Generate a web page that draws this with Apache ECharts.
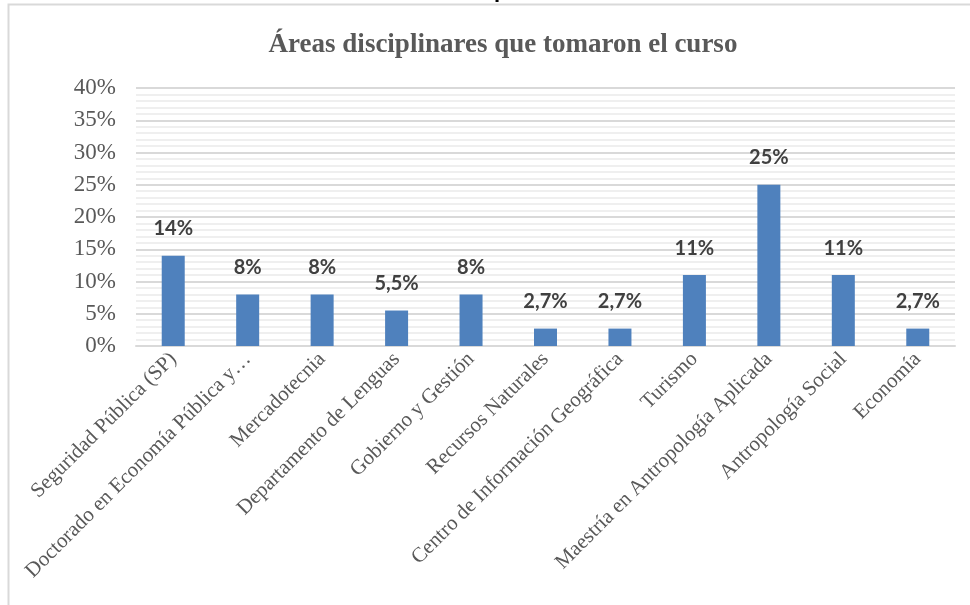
<!DOCTYPE html>
<html>
<head>
<meta charset="utf-8">
<script src="https://cdn.jsdelivr.net/npm/echarts@6/dist/echarts.min.js"></script>
<style>
html,body{margin:0;padding:0;background:#fff;}
#chart{width:970px;height:605px;}
</style>
</head>
<body>
<div id="chart"></div>
<script>
const titleText = 'Áreas disciplinares que tomaron el curso';
const categories = [
  'Seguridad Pública (SP)',
  'Doctorado en Economía Pública y…',
  'Mercadotecnia',
  'Departamento de Lenguas',
  'Gobierno y Gestión',
  'Recursos Naturales',
  'Centro de Información Geográfica',
  'Turismo',
  'Maestría en Antropología Aplicada',
  'Antropología Social',
  'Economía'
];
const values = [14, 8, 8, 5.5, 8, 2.7, 2.7, 11, 25, 11, 2.7];
const yMin = 0, yMax = 40, yStep = 5;

const chart = echarts.init(document.getElementById('chart'));
chart.setOption({
  animation: false,
  backgroundColor: '#ffffff',
  title: {
    text: titleText,
    left: 498,
    textAlign: 'center',
    top: 27,
    textStyle: {
      fontFamily: 'Liberation Serif',
      fontWeight: 'bold',
      fontSize: 27,
      color: '#595959'
    }
  },
  graphic: [
    {
      type: 'rect',
      shape: { x: 8.5, y: 4.5, width: 1000, height: 700 },
      style: { fill: 'none', stroke: '#d9d9d9', lineWidth: 2 },
      silent: true
    },
    {
      type: 'text',
      x: 494, y: 2,
      style: {
        text: 'p',
        fontFamily: 'Liberation Sans',
        fontWeight: 'bold',
        fontSize: 22,
        fill: '#000',
        verticalAlign: 'bottom'
      },
      silent: true,
      z: 10
    }
  ],
  grid: { left: 136, right: 15, top: 88, bottom: 259 },
  xAxis: {
    type: 'category',
    data: categories,
    axisLine: { show: true, lineStyle: { color: '#d9d9d9', width: 2 } },
    axisTick: { show: false },
    axisLabel: {
      rotate: 45,
      interval: 0,
      margin: 10,
      fontFamily: 'Liberation Serif',
      fontSize: 21,
      color: '#595959'
    }
  },
  yAxis: {
    type: 'value',
    min: yMin, max: yMax, interval: yStep,
    axisLine: { show: false },
    axisTick: { show: false },
    axisLabel: {
      formatter: '{value}%',
      fontFamily: 'Liberation Serif',
      fontSize: 23,
      color: '#595959',
      margin: 20
    },
    splitLine: { lineStyle: { color: '#d9d9d9', width: 2 } },
    minorTick: { show: false, splitNumber: 5 },
    minorSplitLine: { show: true, lineStyle: { color: '#efefef', width: 2 } }
  },
  series: [{
    type: 'bar',
    data: values,
    barWidth: 23,
    itemStyle: { color: '#4f81bd' },
    label: {
      show: true,
      position: 'top',
      distance: 17,
      fontFamily: 'Lato',
      fontWeight: 'bold',
      fontSize: 20,
      color: '#404040',
      formatter: p => String(p.value).replace('.', ',') + '%'
    }
  }]
});
</script>
</body>
</html>
